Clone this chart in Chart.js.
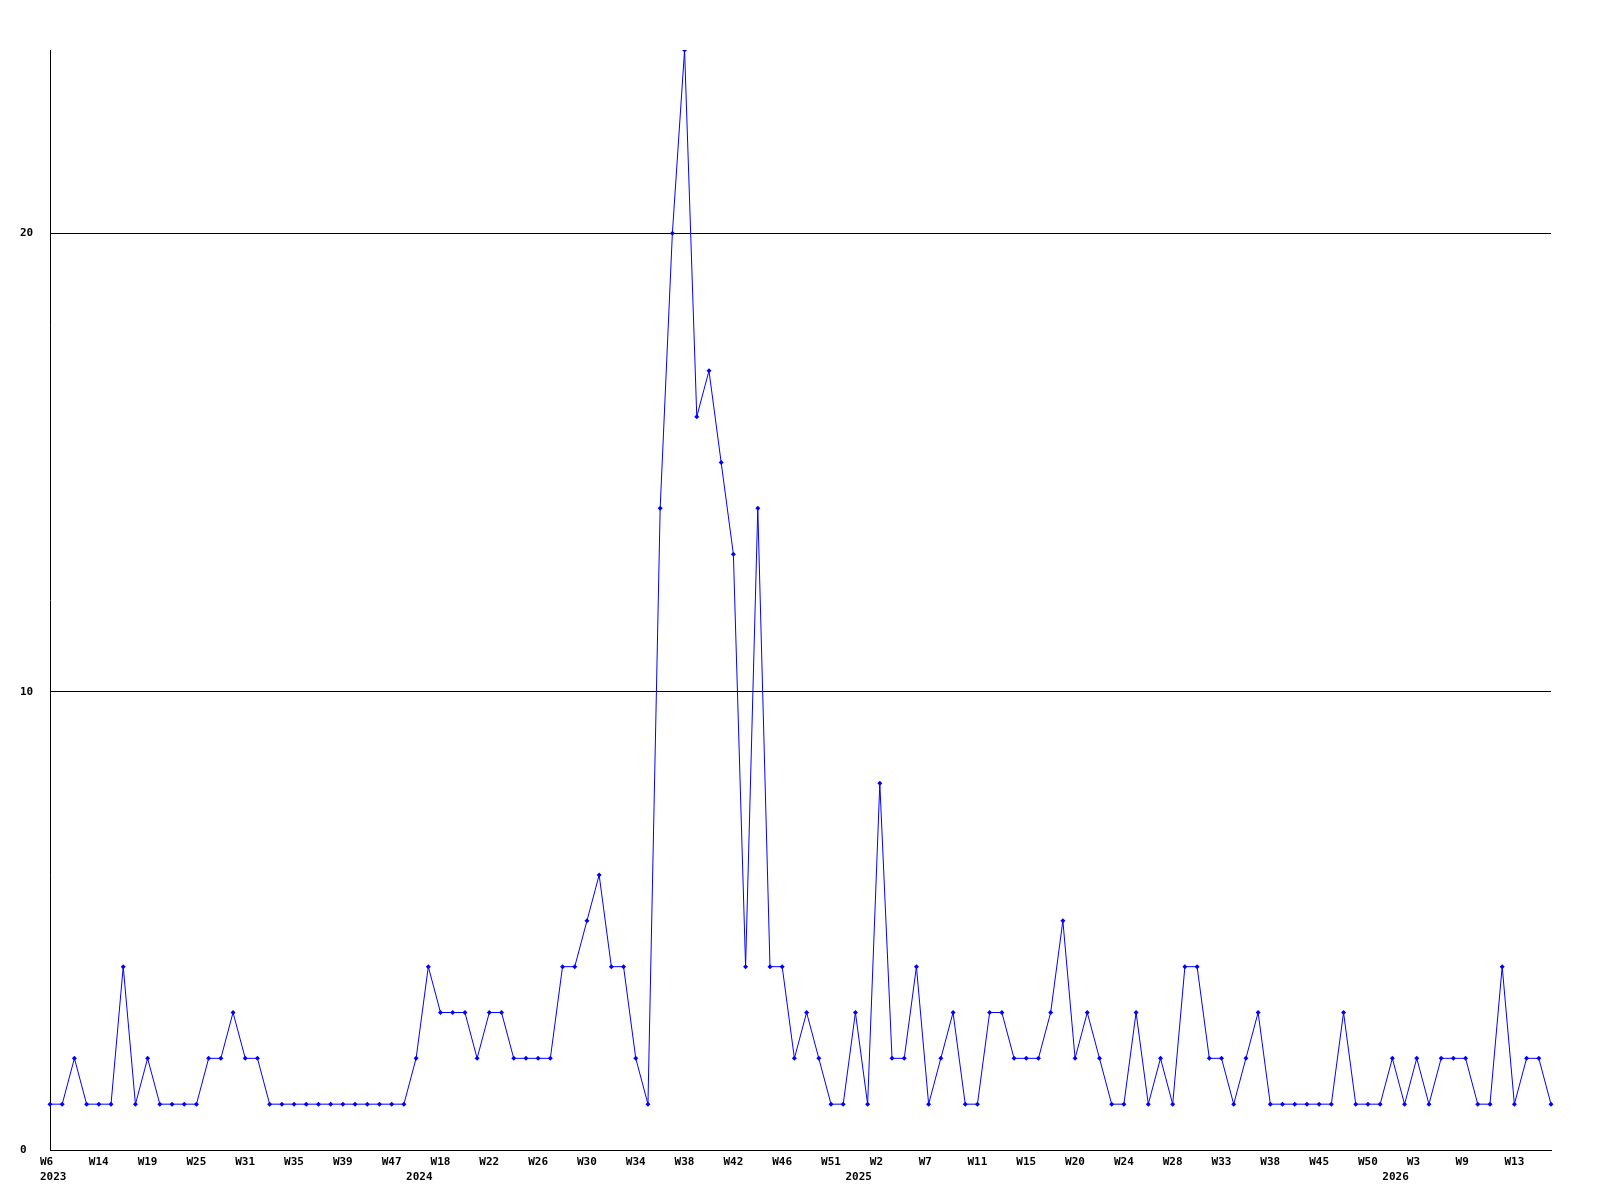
<!DOCTYPE html>
<html>
<head>
<meta charset="utf-8">
<script src="https://cdn.jsdelivr.net/npm/chart.js@4"></script>
<style>
  body { margin: 0; background: #fff; }
  #wrap { width: 1600px; height: 1200px; }
</style>
</head>
<body>
<div id="wrap"><canvas id="chart" width="1600" height="1200"></canvas></div>
<script>
// weekly counts, one point per week that has data
const counts = [
  1, 1, 2, 1, 1, 1, 4, 1, 2, 1, 1, 1, 1, 2, 2, 3, 2, 2, 1, 1,
  1, 1, 1, 1, 1, 1, 1, 1, 1, 1, 2, 4, 3, 3, 3, 2, 3, 3, 2, 2,
  2, 2, 4, 4, 5, 6, 4, 4, 2, 1, 14, 20, 24, 16, 17, 15, 13, 4, 14, 4,
  4, 2, 3, 2, 1, 1, 3, 1, 8, 2, 2, 4, 1, 2, 3, 1, 1, 3, 3, 2,
  2, 2, 3, 5, 2, 3, 2, 1, 1, 3, 1, 2, 1, 4, 4, 2, 2, 1, 2, 3,
  1, 1, 1, 1, 1, 1, 3, 1, 1, 1, 2, 1, 2, 1, 2, 2, 2, 1, 1, 4,
  1, 2, 2, 1
];

// week labels shown on the axis (every 4th point)
const weekTicks = [
  'W6', 'W14', 'W19', 'W25', 'W31', 'W35', 'W39', 'W47',
  'W18', 'W22', 'W26', 'W30', 'W34', 'W38', 'W42', 'W46',
  'W51', 'W2', 'W7', 'W11', 'W15', 'W20', 'W24', 'W28',
  'W33', 'W38', 'W45', 'W50', 'W3', 'W9', 'W13'
];
const tickEvery = 4;

// year labels and the point where each year starts
const years = ['2023', '2024', '2025', '2026'];
const yearStart = [0, 30, 66, 110];

// build the category labels (two lines: week / year)
let labels = counts.map((c, i) => {
    let wk = i % tickEvery === 0 ? (weekTicks[i / tickEvery] || '') : '';
    let y = yearStart.indexOf(i);
    return y >= 0 ? [wk, years[y]] : wk;
});

const tickFont = { family: 'DejaVu Sans Mono', size: 11, weight: 'bold', lineHeight: 1.33 };

new Chart(document.getElementById('chart'), {
    type: 'line',
    data: {
        labels: labels,
        datasets: [{
            data: counts,
            borderColor: '#0000ff',
            backgroundColor: '#0000ff',
            borderWidth: 1,
            tension: 0,
            pointStyle: 'rectRot',
            pointRadius: 2.5,
            pointBorderWidth: 0
        }]
    },
    options: {
        responsive: false,
        animation: false,
        layout: { padding: { left: 20, right: 49, top: 50, bottom: 0 } },
        plugins: { legend: { display: false }, tooltip: { enabled: false } },
        scales: {
            x: {
                type: 'category',
                offset: false,
                grid: { color: 'rgba(0,0,0,0)', drawTicks: false },
                border: { display: true, color: '#000', width: 1 },
                ticks: {
                    autoSkip: false,
                    maxRotation: 0,
                    minRotation: 0,
                    align: 'start',
                    labelOffset: -10,
                    padding: 5,
                    color: '#000',
                    font: tickFont
                },
                afterFit: s => { s.height = 50; }
            },
            y: {
                min: 0,
                max: 24,
                grid: { color: '#000', drawTicks: false, lineWidth: 1 },
                border: { display: true, color: '#000', width: 1 },
                ticks: {
                    stepSize: 10,
                    crossAlign: 'far',
                    padding: 0,
                    color: '#000',
                    font: tickFont
                },
                afterBuildTicks: s => { s.ticks = s.ticks.filter(t => t.value % 10 === 0); },
                afterFit: s => { s.width = 30; }
            }
        }
    }
});
</script>
</body>
</html>
